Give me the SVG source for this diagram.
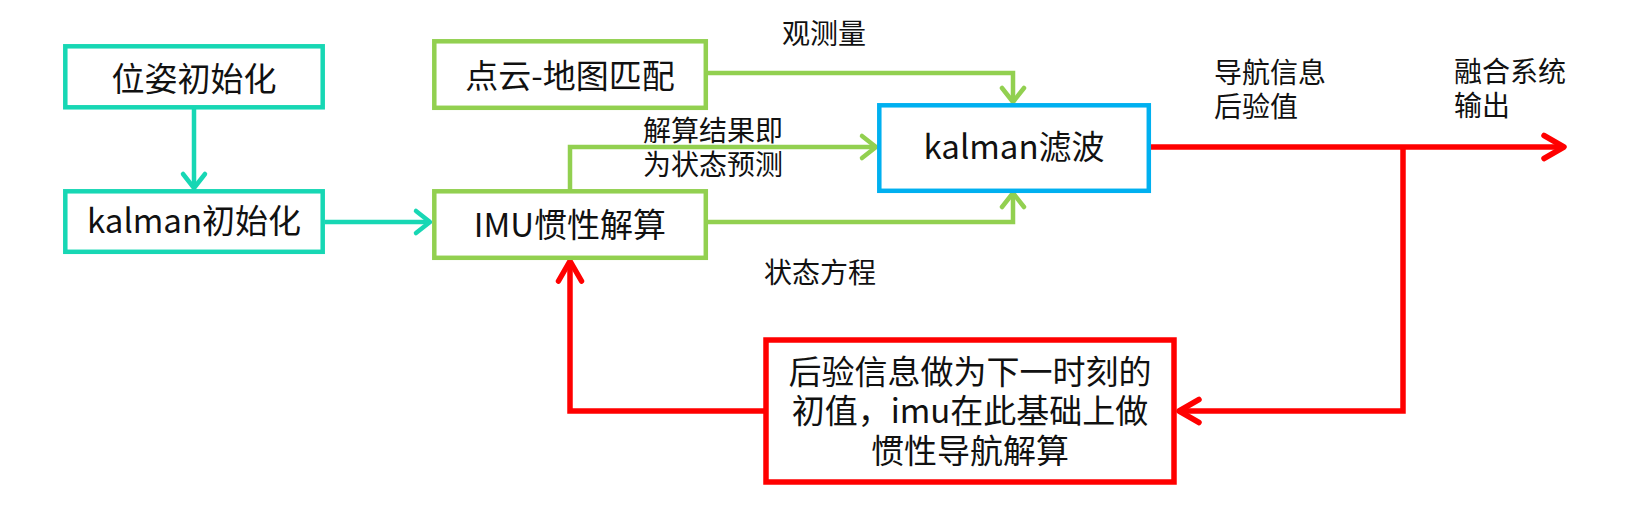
<svg xmlns="http://www.w3.org/2000/svg" width="1627" height="528" viewBox="0 0 1627 528">
<style>
text{font-family:"Noto Sans CJK SC","Microsoft YaHei","Noto Sans",sans-serif;fill:#111;}
.bt{font-size:33px;text-anchor:middle;}
.lb{font-size:28px;}
.box{fill:#fff;stroke-width:4.5;}
.teal{stroke:#17D7B4;}
.green{stroke:#92D050;}
.blue{stroke:#00B0F0;}
.red{stroke:#FF0000;}
.cn{fill:none;stroke-width:4.5;stroke-linejoin:miter;}
.cr{fill:none;stroke-width:5.5;}
</style>
<defs>
<marker id="aT" markerUnits="userSpaceOnUse" viewBox="-20 -15 24 30" markerWidth="24" markerHeight="30" refX="0" refY="0" orient="auto"><path d="M-14,-11 L0,0 L-14,11" fill="none" stroke="#17D7B4" stroke-width="4.5" stroke-linecap="round" stroke-linejoin="round"/></marker>
<marker id="aG" markerUnits="userSpaceOnUse" viewBox="-20 -15 24 30" markerWidth="24" markerHeight="30" refX="0" refY="0" orient="auto"><path d="M-14,-11 L0,0 L-14,11" fill="none" stroke="#92D050" stroke-width="4.5" stroke-linecap="round" stroke-linejoin="round"/></marker>
<marker id="aR" markerUnits="userSpaceOnUse" viewBox="-24 -15 28 30" markerWidth="28" markerHeight="30" refX="0" refY="0" orient="auto"><path d="M-20,-11.5 L0,0 L-20,11.5" fill="none" stroke="#FF0000" stroke-width="5.5" stroke-linecap="round" stroke-linejoin="round"/></marker>
</defs>
<rect width="1627" height="528" fill="#fff"/>
<g id="connectors">
<path class="cn teal" d="M194,109 V188" marker-end="url(#aT)"/>
<path class="cn teal" d="M325,222 H430" marker-end="url(#aT)"/>
<path class="cn green" d="M708,73 H1013 V102" marker-end="url(#aG)"/>
<path class="cn green" d="M570,190 V147 H876" marker-end="url(#aG)"/>
<path class="cn green" d="M708,222 H1013 V193" marker-end="url(#aG)"/>
<path class="cr red" d="M1151,147 H1564" marker-end="url(#aR)"/>
<path class="cr red" d="M1403,147 V411 H1179" marker-end="url(#aR)"/>
<path class="cr red" d="M764,411 H570 V261" marker-end="url(#aR)"/>
</g>
<g id="n1"><rect class="box teal" x="65.3" y="46.3" width="257.4" height="61"/><text class="bt" x="194" y="91">位姿初始化</text></g>
<g id="n2"><rect class="box teal" x="65.3" y="191.3" width="257.4" height="60.5"/><text class="bt" x="194" y="233">kalman初始化</text></g>
<g id="n3"><rect class="box green" x="434.3" y="41.3" width="271.5" height="66.5"/><text class="bt" x="570" y="88">点云-地图匹配</text></g>
<g id="n4"><rect class="box green" x="434.3" y="191.3" width="271.5" height="66.5"/><text class="bt" x="570" y="237">IMU惯性解算</text></g>
<g id="n5"><rect class="box blue" x="879.3" y="105.3" width="269.5" height="85.5"/><text class="bt" x="1014" y="159">kalman滤波</text></g>
<g id="n6"><rect class="box red" x="766" y="340" width="408" height="142" style="stroke-width:5.5"/>
<text class="bt" x="970" y="384">后验信息做为下一时刻的</text>
<text class="bt" x="970" y="423">初值，imu在此基础上做</text>
<text class="bt" x="970" y="463">惯性导航解算</text></g>
<g id="labels">
<text class="lb" x="824" y="44" text-anchor="middle">观测量</text>
<text class="lb" x="643" y="141">解算结果即</text>
<text class="lb" x="643" y="175">为状态预测</text>
<text class="lb" x="820" y="283" text-anchor="middle">状态方程</text>
<text class="lb" x="1214" y="83">导航信息</text>
<text class="lb" x="1214" y="117">后验值</text>
<text class="lb" x="1454" y="82">融合系统</text>
<text class="lb" x="1454" y="116">输出</text>
</g>
</svg>
